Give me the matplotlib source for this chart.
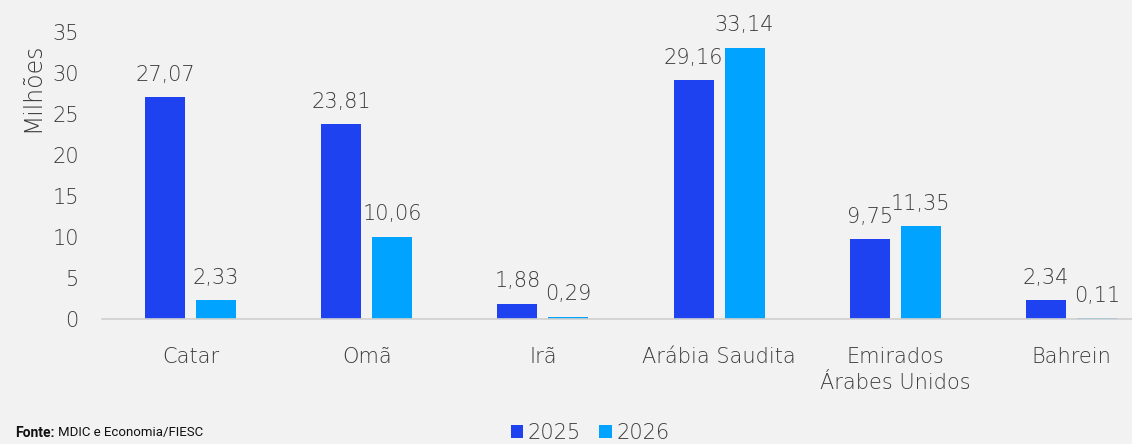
import matplotlib
matplotlib.use("Agg")
import matplotlib.pyplot as plt
import numpy as np

categories = ["Catar", "Omã", "Irã", "Arábia Saudita", "Emirados\nÁrabes Unidos", "Bahrein"]
series_names = ["2025", "2026"]
values_2025 = [27.07, 23.81, 1.88, 29.16, 9.75, 2.34]
values_2026 = [2.33, 10.06, 0.29, 33.14, 11.35, 0.11]
yticks = [0, 5, 10, 15, 20, 25, 30, 35]

c2025 = "#1E42F0"
c2026 = "#00A3FF"
bg = "#F2F2F2"
txt = "#3A3A3A"
FONT = ['DejaVu Sans']
plt.rcParams['font.family'] = FONT
plt.rcParams['font.weight'] = 200
plt.rcParams['axes.labelweight'] = 200

W, H = 1132, 444
fig = plt.figure(figsize=(W / 100, H / 100), dpi=100, facecolor=bg)
ax = fig.add_axes([102.4 / W, (H - 319.3) / H, (W - 102.4) / W, 287 / H], facecolor=bg)

x = np.arange(len(categories))
w = 0.227
gap = 0.0624
b1 = ax.bar(x - (w + gap) / 2, values_2025, w, color=c2025, label=series_names[0])
b2 = ax.bar(x + (w + gap) / 2, values_2026, w, color=c2026, label=series_names[1])

def fmt(v):
    return f"{v:.2f}".replace(".", ",")

for bars, vals in ((b1, values_2025), (b2, values_2026)):
    for r, v in zip(bars, vals):
        ax.annotate(fmt(v), (r.get_x() + r.get_width() / 2, v), xytext=(0, 9),
                    textcoords="offset points", ha="center", va="bottom",
                    fontsize=15, color=txt, annotation_clip=False)

ax.set_xlim(-0.5, -0.5 + (W - 102.4) / 176.2)
ax.set_ylim(0, 35)
ax.set_yticks(yticks)
ax.set_yticklabels([str(t) for t in yticks], fontsize=15, color=txt)
ax.set_xticks(x)
ax.set_xticklabels(categories, fontsize=15, color=txt, linespacing=1.35)
ax.tick_params(axis="x", length=0, pad=20)
ax.tick_params(axis="y", length=0, pad=17)
for s in ["top", "right", "left"]:
    ax.spines[s].set_visible(False)
ax.spines["bottom"].set_color("#D0D0D0")
ax.spines["bottom"].set_linewidth(1.2)
ax.set_ylabel("Milhões", fontsize=17, color=txt, fontweight=200)
ax.yaxis.set_label_coords(-58 / (W - 102.4), 0.81)

leg = fig.legend(handles=[b1, b2], labels=series_names, loc="center", bbox_to_anchor=(590 / W, 0.025),
                 ncol=2, frameon=False, fontsize=15, handlelength=0.6, handleheight=0.6,
                 handletextpad=0.2, columnspacing=0.9, borderaxespad=0)
for t in leg.get_texts():
    t.set_color(txt)

NARROW = ['Roboto']
t1 = fig.text(15 / W, 0.025, "Fonte:", fontsize=10, fontweight="bold", color="#111111",
              va="center", ha="left", family=NARROW)
fig.canvas.draw()
bb = t1.get_window_extent()
fig.text((bb.x1 + 4) / W, 0.025, "MDIC e Economia/FIESC", fontsize=9.5, fontweight="normal",
         color="#111111", va="center", ha="left", family=NARROW)

fig.savefig("out.png", dpi=100, facecolor=bg)
